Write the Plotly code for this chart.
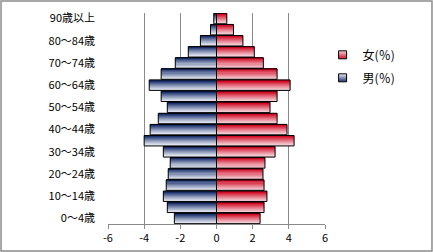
import plotly.graph_objects as go

age_groups = ["0～4歳", "5～9歳", "10～14歳", "15～19歳", "20～24歳", "25～29歳",
              "30～34歳", "35～39歳", "40～44歳", "45～49歳", "50～54歳", "55～59歳",
              "60～64歳", "65～69歳", "70～74歳", "75～79歳", "80～84歳", "85～89歳",
              "90歳以上"]
male = [-2.33, -2.72, -2.94, -2.78, -2.67, -2.56, -2.94, -4.0, -3.67, -3.22,
        -2.72, -3.06, -3.72, -3.06, -2.28, -1.56, -0.89, -0.33, -0.15]
female = [2.41, 2.63, 2.79, 2.63, 2.57, 2.68, 3.24, 4.29, 3.9, 3.35,
          2.96, 3.35, 4.07, 3.35, 2.59, 2.09, 1.46, 0.94, 0.57]
x_ticks = [-6, -4, -2, 0, 2, 4, 6]
legend_names = {"female": "女(％)", "male": "男(％)"}

FONT = "Noto Sans CJK JP, Noto Sans, sans-serif"
pos = list(range(len(age_groups)))

def lerp(c1, c2, t):
    return "rgb(%d,%d,%d)" % tuple(round(a + (b - a) * t) for a, b in zip(c1, c2))

BLUE = ((28, 50, 110), (236, 239, 247))
RED = ((210, 12, 38), (246, 214, 220))
series = [(male, BLUE), (female, RED)]
W = 0.94
N = 10
fig = go.Figure()
for vals, (dark, light) in series:
    for i in range(N):
        t = i / (N - 1)  # 0 bottom -> 1 top
        col = lerp(light, dark, t ** 1.2)
        fig.add_trace(go.Bar(
            x=vals, y=pos, orientation="h", width=W / N + 0.01,
            offset=-W / 2 + i * W / N, marker=dict(color=col, line=dict(width=0)),
            showlegend=False, hoverinfo="skip"))
    fig.add_trace(go.Bar(
        x=vals, y=pos, orientation="h", width=W, offset=-W / 2,
        marker=dict(color="rgba(0,0,0,0)", line=dict(color="#000000", width=1)),
        showlegend=False, hoverinfo="skip"))

for key, (dark, light) in [("female", RED), ("male", BLUE)]:
    fig.add_trace(go.Scatter(
        x=[None], y=[None], mode="markers", name=legend_names[key],
        legendgroup=key,
        marker=dict(symbol="square", size=8, color=lerp(light, dark, 0),
                    gradient=dict(type="vertical", color=lerp(light, dark, 1)),
                    line=dict(color="#000000", width=1))))

fig.update_layout(
    width=433, height=252, margin=dict(l=108, r=108, t=13, b=28, autoexpand=False),
    paper_bgcolor="white", plot_bgcolor="white", barmode="overlay",
    font=dict(family=FONT, size=11, color="#000000"),
    showlegend=True,
    legend=dict(xref="container", yref="container", x=0.745, y=0.84,
                xanchor="left", yanchor="top", itemwidth=30,
                font=dict(family=FONT, size=12), tracegroupgap=4,
                traceorder="grouped", bgcolor="rgba(0,0,0,0)"),
    shapes=[dict(type="rect", xref="paper", yref="paper", x0=-0.493, x1=1.493,
                 y0=-0.128, y1=1.057, line=dict(color="#8c8c8c", width=1.5),
                 layer="below")],
)
fig.update_xaxes(range=[-6, 6], tickvals=x_ticks, ticktext=[str(v) for v in x_ticks],
                 showgrid=True, gridcolor="#8a8a8a", gridwidth=1,
                 zeroline=True, zerolinecolor="#6e6e6e", zerolinewidth=1,
                 showline=True, linecolor="#8a8a8a", linewidth=1,
                 ticks="outside", ticklen=4, tickcolor="#8a8a8a",
                 tickfont=dict(size=11), fixedrange=True)
fig.update_yaxes(range=[-0.5, len(age_groups) - 0.5],
                 tickvals=pos[::2], ticktext=age_groups[::2],
                 showgrid=False, zeroline=False, showline=False, ticks="",
                 ticklabelstandoff=12, tickfont=dict(size=11), fixedrange=True)

fig.write_html("out.html")
